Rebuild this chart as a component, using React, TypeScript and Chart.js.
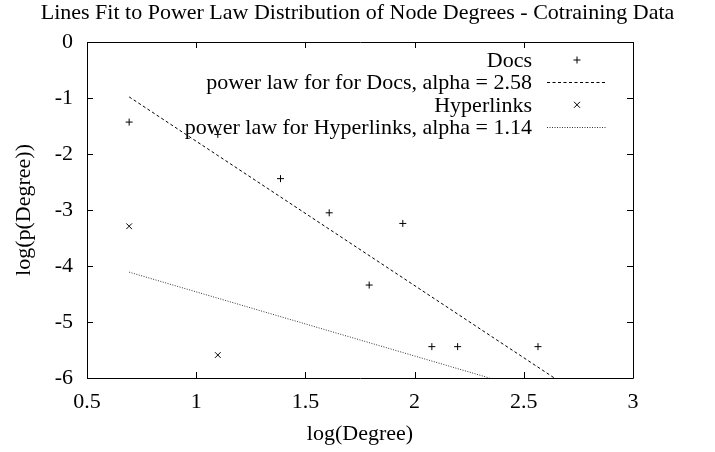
import React, { useEffect, useRef } from "react";
import { Chart, registerables } from "chart.js";

Chart.register(...registerables);

const TITLE = "Lines Fit to Power Law Distribution of Node Degrees - Cotraining Data";
const X_LABEL = "log(Degree)";
const Y_LABEL = "log(p(Degree))";

// log of node degree (x) and log of probability (y)
const docsX = [0.693, 1.099, 1.386, 1.609, 1.792, 1.946, 2.079, 2.197, 2.565];
const docsY = [-1.43, -1.65, -2.44, -3.05, -4.34, -3.24, -5.44, -5.44, -5.44];
const hyperX = [0.693, 1.099];
const hyperY = [-3.29, -5.59];

// fitted power-law lines (endpoints)
const docsFitX = [0.693, 2.64];
const docsFitY = [-0.98, -6.0];
const hyperFitX = [0.693, 2.343];
const hyperFitY = [-4.11, -6.0];

const X_MIN = 0.5, X_MAX = 3, X_STEP = 0.5;
const Y_MIN = -6, Y_MAX = 0, Y_STEP = 1;

const LABELS = [
  "Docs",
  "power law for for Docs, alpha = 2.58",
  "Hyperlinks",
  "power law for Hyperlinks, alpha = 1.14",
];

const FONT = "Liberation Serif, Times New Roman, serif";
const FS = 22;

const zip = (xs: number[], ys: number[]) => xs.map((x, i) => ({ x, y: ys[i] }));

const framePlugin = {
  id: "gnuFrame",
  afterDatasetsDraw(chart: any) {
    const { ctx, chartArea: a, scales } = chart;
    const xs = scales.x, ys = scales.y;
    ctx.save();
    ctx.strokeStyle = "#000";
    ctx.lineWidth = 1;
    ctx.beginPath();
    ctx.rect(Math.round(a.left) + 0.5, Math.round(a.top) + 0.5, Math.round(a.right - a.left), Math.round(a.bottom - a.top));
    ctx.stroke();
    const TL = 6;
    ctx.beginPath();
    xs.ticks.forEach((t: any) => {
      const px = Math.round(xs.getPixelForValue(t.value)) + 0.5;
      ctx.moveTo(px, a.bottom); ctx.lineTo(px, a.bottom - TL);
      ctx.moveTo(px, a.top); ctx.lineTo(px, a.top + TL);
    });
    ys.ticks.forEach((t: any) => {
      const py = Math.round(ys.getPixelForValue(t.value)) + 0.5;
      ctx.moveTo(a.left, py); ctx.lineTo(a.left + TL, py);
      ctx.moveTo(a.right, py); ctx.lineTo(a.right - TL, py);
    });
    ctx.stroke();
    ctx.restore();
  },
  afterDraw(chart: any) {
    const { ctx } = chart;
    const ds = chart.data.datasets;
    ctx.save();
    // title, centred on the whole canvas
    ctx.font = `${FS}px ${FONT}`;
    ctx.fillStyle = "#000";
    ctx.textAlign = "center";
    ctx.textBaseline = "middle";
    ctx.fillText(TITLE, chart.width / 2, 13);

    // legend (gnuplot style: right-aligned text, sample on the right)
    const textRight = 532;
    const sampleL = 547, sampleR = 607, mark = 577;
    const row0 = 60, rowH = 22.4;
    ctx.textAlign = "right";
    ds.forEach((d: any, i: number) => {
      const y = row0 + i * rowH;
      ctx.fillStyle = "#000";
      ctx.fillText(d.label, textRight, y + 1);
      ctx.strokeStyle = d.borderColor;
      ctx.lineWidth = 1;
      if (d.showLine) {
        ctx.setLineDash(d.borderDash || []);
        ctx.beginPath();
        ctx.moveTo(sampleL, Math.round(y) + 0.5);
        ctx.lineTo(sampleR, Math.round(y) + 0.5);
        ctx.stroke();
        ctx.setLineDash([]);
      } else {
        const r = d.pointRadius;
        ctx.beginPath();
        if (d.pointStyle === "cross") {
          ctx.moveTo(mark - r, y); ctx.lineTo(mark + r, y);
          ctx.moveTo(mark, y - r); ctx.lineTo(mark, y + r);
        } else {
          const q = r * 0.75;
          ctx.moveTo(mark - q, y - q); ctx.lineTo(mark + q, y + q);
          ctx.moveTo(mark - q, y + q); ctx.lineTo(mark + q, y - q);
        }
        ctx.stroke();
      }
    });
    ctx.restore();
  },
};

export default function App() {
  const ref = useRef<HTMLCanvasElement | null>(null);
  useEffect(() => {
    document.body.style.margin = "0";
    const canvas = ref.current!;
    const chart = new Chart(canvas, {
      type: "scatter",
      data: {
        datasets: [
          {
            label: LABELS[0],
            data: zip(docsX, docsY),
            pointStyle: "cross",
            pointRadius: 3.5,
            borderColor: "#000",
            backgroundColor: "#000",
            borderWidth: 1,
            showLine: false,
          },
          {
            label: LABELS[1],
            data: zip(docsFitX, docsFitY),
            showLine: true,
            pointRadius: 0,
            borderColor: "#000",
            borderWidth: 1,
            borderDash: [3, 2.5],
          },
          {
            label: LABELS[2],
            data: zip(hyperX, hyperY),
            pointStyle: "crossRot",
            pointRadius: 4,
            borderColor: "#000",
            backgroundColor: "#000",
            borderWidth: 1,
            showLine: false,
          },
          {
            label: LABELS[3],
            data: zip(hyperFitX, hyperFitY),
            showLine: true,
            pointRadius: 0,
            borderColor: "#333",
            borderWidth: 1,
            borderDash: [1, 1.5],
          },
        ],
      } as any,
      options: {
        animation: false,
        responsive: false,
        devicePixelRatio: 1,
        layout: { padding: { left: 0, right: 82, top: 42, bottom: 0 } },
        plugins: {
          legend: { display: false },
          tooltip: { enabled: false },
          title: { display: false },
        },
        scales: {
          x: {
            type: "linear",
            min: X_MIN,
            max: X_MAX,
            grid: { display: false, drawTicks: false, tickLength: 0 },
            border: { display: false },
            ticks: {
              stepSize: X_STEP,
              color: "#000",
              padding: 11,
              font: { family: FONT, size: FS },
              maxRotation: 0,
              callback: (v: any) => String(Number(v)),
            },
            title: {
              display: true,
              text: X_LABEL,
              color: "#000",
              font: { family: FONT, size: FS, lineHeight: 1.2 },
              padding: { top: 0, bottom: 5 },
            },
            afterFit: (s: any) => { s.height = 74; },
          },
          y: {
            type: "linear",
            min: Y_MIN,
            max: Y_MAX,
            grid: { display: false, drawTicks: false, tickLength: 0 },
            border: { display: false },
            ticks: {
              stepSize: Y_STEP,
              color: "#000",
              padding: 14,
              font: { family: FONT, size: FS },
              callback: (v: any) => String(Number(v)),
            },
            title: {
              display: true,
              text: Y_LABEL,
              color: "#000",
              font: { family: FONT, size: FS, lineHeight: 1.2 },
              padding: { top: 11, bottom: 0 },
            },
            afterFit: (s: any) => { s.width = 87; },
          },
        },
      } as any,
      plugins: [framePlugin],
    });
    return () => chart.destroy();
  }, []);
  return <canvas ref={ref} width={715} height={452} style={{ display: "block" }} />;
}
